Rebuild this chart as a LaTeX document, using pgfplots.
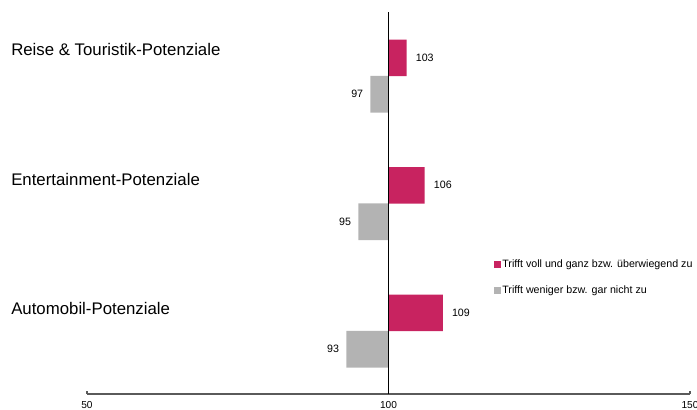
\documentclass[border=0pt]{standalone}
\usepackage{fontspec}
\setmainfont{Liberation Sans}
\usepackage{pgfplots}
\pgfplotsset{compat=1.18}

\definecolor{voll}{RGB}{200,35,96}
\definecolor{weniger}{RGB}{179,179,179}
\definecolor{axisgray}{RGB}{90,90,90}

\begin{document}
\begin{tikzpicture}
\useasboundingbox (0,0) rectangle (522.75pt,307.5pt);
\begin{axis}[
  at={(65.25pt,12pt)}, anchor=south west,
  scale only axis, width=452.25pt, height=286.5pt,
  xmin=-50, xmax=50, ymin=-0.494, ymax=2.502,
  x filter/.expression={x-100},
  axis x line*=bottom, axis y line=none,
  xtick={-50,0,50}, xticklabels={50,100,150},
  tick align=inside, major tick length=2.5pt,
  x axis line style={axisgray, line width=0.9pt},
  xtick style={axisgray, line width=0.8pt},
  ticklabel style={font=\fontsize{7.6}{9}\selectfont},
  xticklabel style={yshift=-2pt},
  /pgf/number format/assume math mode=true,
  point meta=rawx,
  nodes near coords,
  every node near coord/.append style={font=\fontsize{8}{10}\selectfont, inner sep=0pt},
  legend style={at={(rel axis cs:0.668,0.305)}, anchor=west, draw=none, fill=none,
    font=\fontsize{8}{10}\selectfont, row sep=10pt,
    nodes={inner sep=1pt}},
  legend cell align=left,
  clip=false,
]
% Upper bar of each pair: agreement
\addplot[xbar, bar shift=0pt, bar width=27.4pt, fill=voll, draw=none,
  every node near coord/.append style={anchor=west, xshift=6.75pt},
  legend image code/.code={\fill[voll] (0pt,-2.6pt) rectangle (5.2pt,2.6pt);}]
  coordinates {(103,2.143) (106,1.143) (109,0.143)};
\addlegendentry{Trifft voll und ganz bzw. überwiegend zu}
% Lower bar of each pair: disagreement
\addplot[xbar, bar shift=0pt, bar width=27.4pt, fill=weniger, draw=none,
  every node near coord/.append style={anchor=east, xshift=-5.25pt},
  legend image code/.code={\fill[weniger] (0pt,-2.6pt) rectangle (5.2pt,2.6pt);}]
  coordinates {(97,1.857) (95,0.857) (93,-0.143)};
\addlegendentry{Trifft weniger bzw. gar nicht zu}
% Index line at 100
\draw[black, line width=0.9pt] (rel axis cs:0.5,0) -- (rel axis cs:0.5,1);
\end{axis}
% Category labels
\begin{scope}[every node/.style={anchor=west, inner sep=0pt, font=\fontsize{12.6}{15}\selectfont}]
\node at (8.25pt,270pt) {Reise \& Touristik-Potenziale};
\node at (8.25pt,172.5pt) {Entertainment-Potenziale};
\node at (8.25pt,76.5pt) {Automobil-Potenziale};
\end{scope}
\end{tikzpicture}
\end{document}
